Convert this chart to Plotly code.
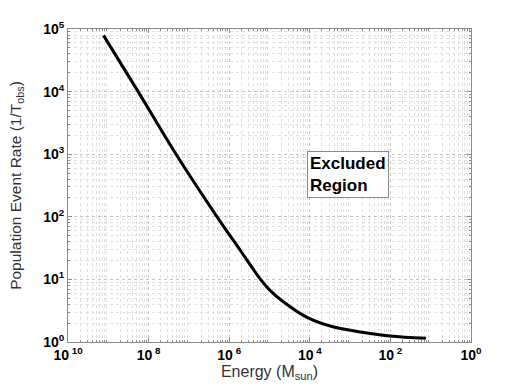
import plotly.graph_objects as go

# curve (energy in M_sun, rate in 1/T_obs)
energy = [7.6e-10, 5.5e-9, 4.8e-8, 5.0e-7, 1.86e-6, 6.0e-6, 1.0e-5,
          2.2e-5, 8.3e-5, 3.2e-4, 1.8e-3, 9.8e-3, 7.6e-2]
rate = [7.9e4, 1.0e4, 1.0e3, 100, 29.5, 10, 6.8,
        4.4, 2.5, 1.8, 1.45, 1.25, 1.15]

x_ticks = [1e-10, 1e-8, 1e-6, 1e-4, 1e-2, 1]
x_labels = ["10<sup> 10</sup>", "10<sup> 8</sup>", "10<sup> 6</sup>",
            "10<sup> 4</sup>", "10<sup> 2</sup>", "10<sup>0</sup>"]
y_ticks = [1, 10, 100, 1e3, 1e4, 1e5]
y_labels = ["10<sup>%d</sup>" % i for i in range(6)]

x_minor = [k * 10.0 ** d for d in range(-10, 0) for k in range(2, 10)]
y_minor = [k * 10.0 ** d for d in range(0, 5) for k in range(2, 10)]

fig = go.Figure(go.Scatter(x=energy, y=rate, mode="lines",
                           line=dict(color="black", width=3, shape="spline", smoothing=1),
                           showlegend=False))

grid = "#c4c4c4"
minor_grid = "#e0e0e0"
axis_common = dict(
    type="log", showline=True, linecolor="#8a8a8a", linewidth=1, mirror="allticks",
    ticks="inside", ticklen=4, tickcolor="#8a8a8a", automargin=False,
    showgrid=True, gridcolor=grid, griddash="dot", gridwidth=1,
    tickfont=dict(family="Liberation Sans", size=14, color="black", weight="bold"),
    zeroline=False,
)
title_font = dict(family="Liberation Sans", size=16, color="#333")

fig.update_xaxes(range=[-10, 0], tickvals=x_ticks, ticktext=x_labels,
                 minor=dict(tickvals=x_minor, showgrid=True, gridcolor=minor_grid, griddash="dot",
                            ticks="inside", ticklen=2, tickcolor="#8a8a8a"),
                 title=dict(text="Energy (M<sub>sun</sub>)", standoff=2, font=title_font),
                 **axis_common)
fig.update_yaxes(range=[0, 5], tickvals=y_ticks, ticktext=y_labels,
                 minor=dict(tickvals=y_minor, showgrid=True, gridcolor=minor_grid, griddash="dot",
                            ticks="inside", ticklen=2, tickcolor="#8a8a8a"),
                 title=dict(text="Population Event Rate (1/T<sub>obs</sub>)", standoff=17,
                            font=dict(title_font, size=15.5)),
                 **axis_common)

fig.add_annotation(x=-4.07, y=2.68, xref="x", yref="y", text="Excluded<br>Region",
                   showarrow=False, align="left", xanchor="left", yanchor="middle",
                   font=dict(family="Liberation Sans", size=17, color="black", weight="bold"),
                   bordercolor="#8a8a8a", borderwidth=1, borderpad=2, bgcolor="white")

fig.update_layout(width=519, height=390, plot_bgcolor="white", paper_bgcolor="white",
                  margin=dict(l=68, r=48, t=29, b=48))

# drop the default 8px page margin so the figure sits at the window origin
fig.write_html("out.html", config={"displayModeBar": False},
               post_script="document.body.style.margin='0';")
